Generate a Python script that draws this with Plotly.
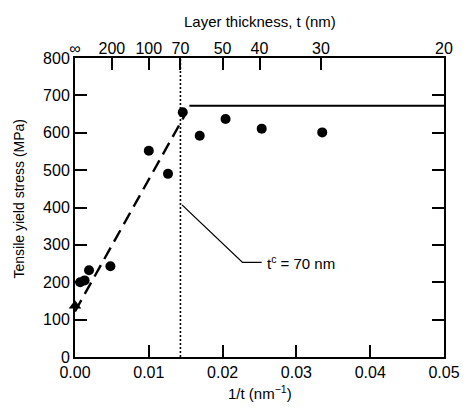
import plotly.graph_objects as go

# data
x_circ = [0.0007, 0.0013, 0.0019, 0.0048, 0.0100, 0.0126, 0.0146, 0.0169, 0.0204, 0.0253, 0.0335, 0.0501]
y_circ = [200, 205, 232, 243, 552, 490, 655, 592, 637, 611, 601, 638]
x_tri = [0.0]
y_tri = [137]
x_dash = [0.0, 0.0149]
y_dash = [122, 648]
x_flat = [0.0155, 0.05]
y_flat = [672, 672]
x_crit = [1 / 70, 1 / 70]
y_crit = [0, 800]
x_ann = [0.0145, 0.0227, 0.0253]
y_ann = [407, 253, 253]
top_vals = [0.0, 1 / 200, 1 / 100, 1 / 70, 1 / 50, 1 / 40, 1 / 30, 1 / 20]
top_text = ["∞", "200", "100", "70", "50", "40", "30", "20"]
bottom_vals = [0, 0.01, 0.02, 0.03, 0.04, 0.05]
bottom_text = ["0.00", "0.01", "0.02", "0.03", "0.04", "0.05"]

FAM = "Liberation Sans, Arial, sans-serif"
font = dict(family=FAM, size=16, color="black")

fig = go.Figure()
fig.add_trace(go.Scatter(x=x_dash, y=y_dash, mode="lines",
                         line=dict(color="black", width=2.4, dash="13px,7px")))
fig.add_trace(go.Scatter(x=x_flat, y=y_flat, mode="lines",
                         line=dict(color="black", width=2)))
fig.add_trace(go.Scatter(x=x_crit, y=y_crit, mode="lines",
                         line=dict(color="black", width=1.6, dash="2px,2px")))
fig.add_trace(go.Scatter(x=x_ann, y=y_ann, mode="lines",
                         line=dict(color="black", width=1.3)))
fig.add_trace(go.Scatter(x=x_circ, y=y_circ, mode="markers", cliponaxis=False,
                         marker=dict(color="black", size=10, symbol="circle")))
fig.add_trace(go.Scatter(x=x_tri, y=y_tri, mode="markers", cliponaxis=False,
                         marker=dict(color="black", size=11, symbol="triangle-up")))
# invisible trace to activate top axis
fig.add_trace(go.Scatter(x=[0.0], y=[0], xaxis="x2", mode="markers",
                         marker=dict(opacity=0), hoverinfo="skip"))

fig.add_annotation(x=0.0258, y=253, xanchor="left", yanchor="middle", showarrow=False,
                   text="t<sup>c</sup> = 70 nm", font=dict(family=FAM, size=15, color="black"))
# axis titles
fig.add_annotation(xref="paper", yref="paper", x=0.5, y=1, yshift=37, yanchor="middle",
                   showarrow=False, text="Layer thickness, t (nm)",
                   font=dict(family=FAM, size=15, color="black"))
fig.add_annotation(xref="paper", yref="paper", x=0.5, y=0, yshift=-35, yanchor="middle",
                   showarrow=False, text="1/t (nm<sup>−1</sup>)",
                   font=dict(family=FAM, size=15, color="black"))
fig.add_annotation(xref="paper", yref="paper", x=0, xshift=-57, y=0.5, yshift=9,
                   xanchor="center", yanchor="middle", textangle=-90, showarrow=False,
                   text="Tensile yield stress (MPa)",
                   font=dict(family=FAM, size=14, color="black"))

# page body has an 8px margin; size the figure so the page needs no scrollbars
fig.update_layout(
    width=452, height=395,
    margin=dict(l=67, r=16, t=50, b=46),
    paper_bgcolor="white", plot_bgcolor="white",
    showlegend=False, font=font,
    xaxis=dict(range=[0, 0.05], tickvals=bottom_vals, ticktext=bottom_text,
               ticks="inside", ticklen=12, tickwidth=1.5, tickcolor="black",
               showline=True, linecolor="black", linewidth=2, mirror=True,
               showgrid=False, zeroline=False, automargin=False),
    xaxis2=dict(range=[0, 0.05], overlaying="x", side="top",
                tickvals=top_vals, ticktext=top_text,
                ticks="inside", ticklen=12, tickwidth=1.5, tickcolor="black",
                showline=False, showgrid=False, zeroline=False, automargin=False),
    yaxis=dict(range=[0, 800], dtick=100,
               ticks="inside", ticklen=12, tickwidth=1.5, tickcolor="black",
               showline=True, linecolor="black", linewidth=2, mirror="ticks",
               showgrid=False, zeroline=False, automargin=False),
)

fig.write_html("out.html")
